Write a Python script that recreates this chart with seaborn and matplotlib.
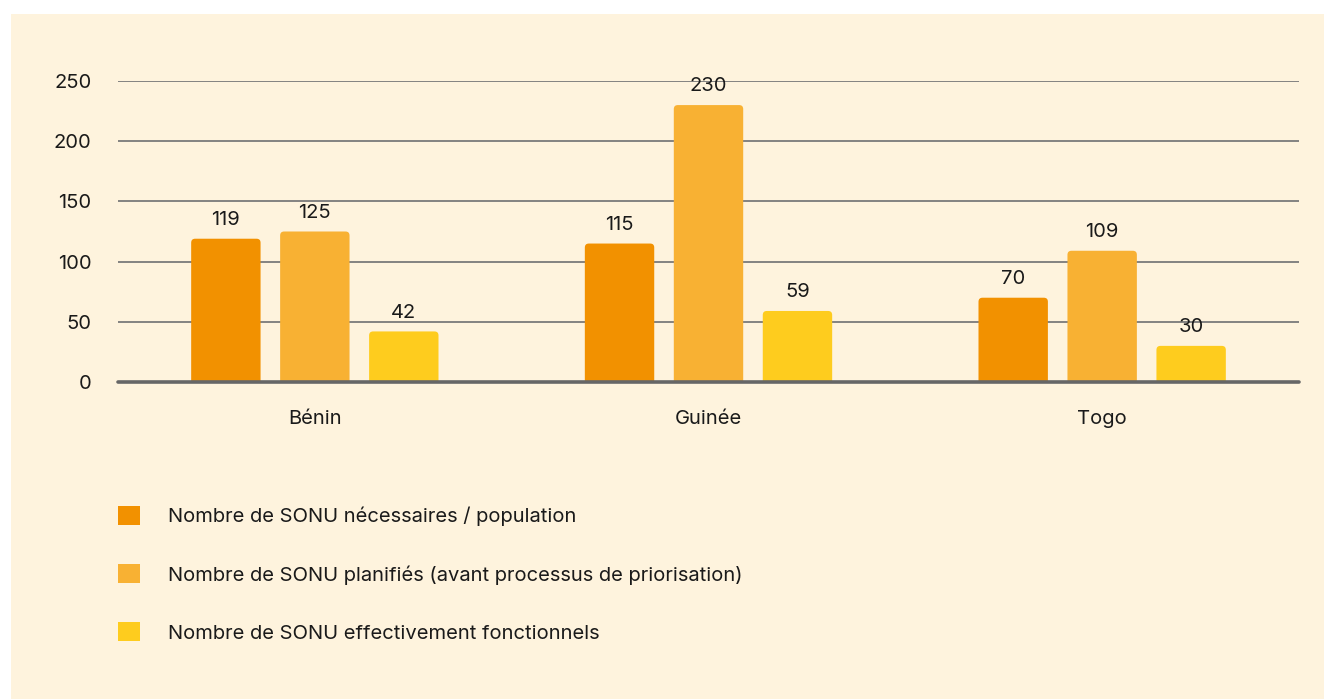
import numpy as np
import pandas as pd
import seaborn as sns
from matplotlib import pyplot as plt
from matplotlib.patches import FancyBboxPatch, Patch, Rectangle

countries = ['Bénin', 'Guinée', 'Togo']
series = [
    'Nombre de SONU nécessaires / population',
    'Nombre de SONU planifiés (avant processus de priorisation)',
    'Nombre de SONU effectivement fonctionnels',
]
necessaires = [119, 115, 70]
planifies = [125, 230, 109]
fonctionnels = [42, 59, 30]
colors = ['#F29100', '#F8B133', '#FECC1E']
yticks = [0, 50, 100, 150, 200, 250]

W, H = 1324, 699
BG = '#FEF3DD'
TEXT = '#1a1a1a'

rows = []
for name, values in zip(series, [necessaires, planifies, fonctionnels]):
    for country, v in zip(countries, values):
        rows.append({'pays': country, 'serie': name, 'valeur': v})
df = pd.DataFrame(rows)

sns.set_theme(style='white')
plt.rcParams['font.family'] = ['Inter', 'DejaVu Sans']

fig = plt.figure(figsize=(W / 100, H / 100), dpi=100)
fig.patch.set_facecolor('white')
fig.patches.append(Rectangle((11 / W, 0), 1, 1 - 14 / H, transform=fig.transFigure,
                             facecolor=BG, edgecolor='none', zorder=-10))

ax = fig.add_axes([118 / W, 1 - 382 / H, (1299 - 118) / W, (382 - 81) / H])
ax.set_facecolor('none')

sns.barplot(df, x='pays', y='valeur', hue='serie', hue_order=series, order=countries,
            palette=colors, saturation=1, width=0.678, gap=0.22, legend=False,
            ax=ax, zorder=3)

for bars in ax.containers:
    ax.bar_label(bars, fmt='%d', padding=7, fontsize=14.5, color=TEXT)

# round the top corners of the bars
px_x = 3 / 1181
px_y = 250 / 301
for p in list(ax.patches):
    x, y, w, h = p.get_x(), p.get_y(), p.get_width(), p.get_height()
    fb = FancyBboxPatch((x, y - 6 * px_y), w, h + 6 * px_y,
                        boxstyle=f'round,pad=0,rounding_size={4 * px_x}',
                        mutation_aspect=px_y / px_x,
                        facecolor=p.get_facecolor(), edgecolor='none', zorder=3)
    p.set_visible(False)
    ax.add_patch(fb)

ax.set_ylim(0, 250)
ax.set_xlim(-0.5, 2.5)
ax.set_yticks(yticks)
for t in yticks[1:]:
    ax.axhline(t, color='#7a7a7a', lw=1.3, zorder=1)
ax.axhline(0, color='#666666', lw=2.6, zorder=4, clip_on=False)

for s in ax.spines.values():
    s.set_visible(False)
ax.tick_params(axis='y', length=0, pad=19, labelsize=14.5, labelcolor=TEXT)
ax.tick_params(axis='x', length=0, pad=20, labelsize=14.5, labelcolor=TEXT)
for lbl in ax.get_yticklabels():
    lbl.set_horizontalalignment('right')
ax.set_xlabel('')
ax.set_ylabel('')

handles = [Patch(facecolor=c, edgecolor='none') for c in colors]
fig.legend(handles, series, loc='upper left', bbox_to_anchor=(118 / W, 1 - 506 / H),
           bbox_transform=fig.transFigure, frameon=False, fontsize=14.5,
           handlelength=1.09, handleheight=1.09, handletextpad=1.39,
           labelspacing=1.87, borderpad=0, borderaxespad=0, labelcolor=TEXT)

fig.savefig('out.png', dpi=100, facecolor='white')
